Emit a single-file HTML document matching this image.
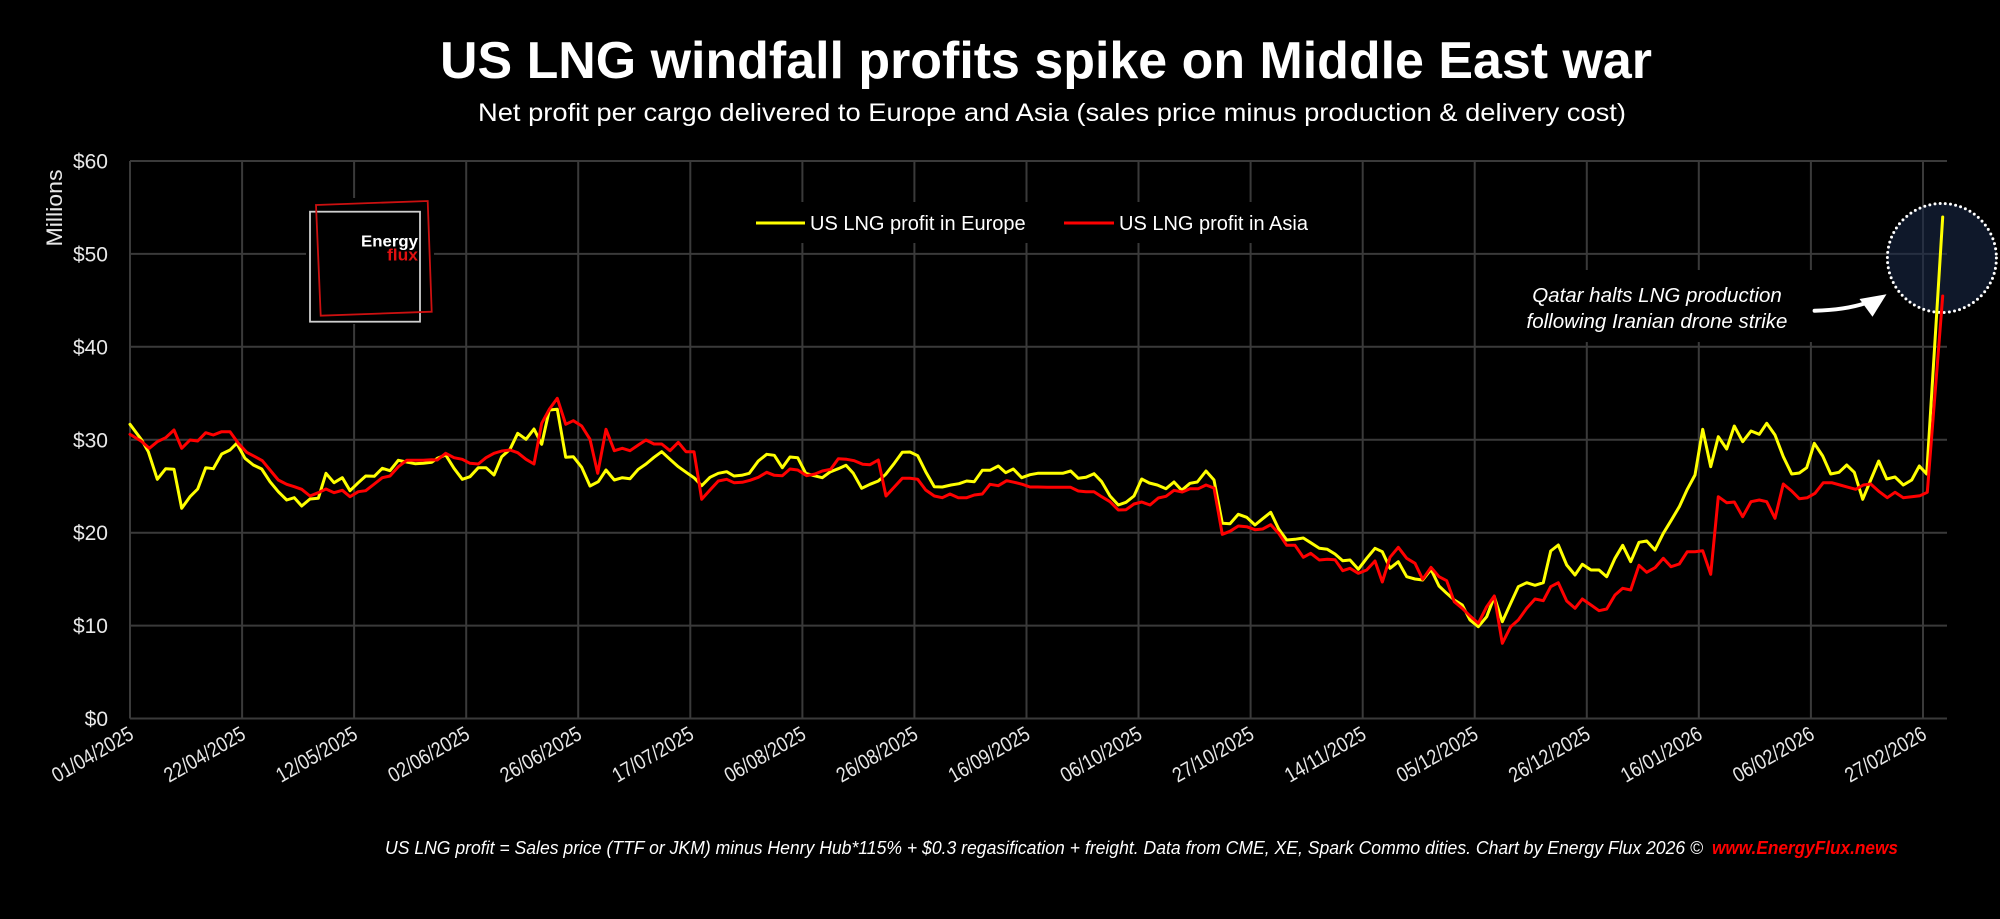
<!DOCTYPE html>
<html>
<head>
<meta charset="utf-8">
<style>
  html, body { margin:0; padding:0; background:#000; }
  body { width:2000px; height:919px; overflow:hidden; }
  svg { display:block; }
  text { font-family: "Liberation Sans", "DejaVu Sans", sans-serif; }
</style>
</head>
<body>
<svg width="2000" height="919" viewBox="0 0 2000 919" xmlns="http://www.w3.org/2000/svg">
  <rect x="0" y="0" width="2000" height="919" fill="#000"/>

  <!-- Title -->
  <text x="440" y="78" font-size="52" font-weight="bold" fill="#fff" textLength="1212" lengthAdjust="spacingAndGlyphs">US LNG windfall profits spike on Middle East war</text>
  <text x="478" y="121" font-size="25" fill="#fff" textLength="1148" lengthAdjust="spacingAndGlyphs">Net profit per cargo delivered to Europe and Asia (sales price minus production &amp; delivery cost)</text>

  <!-- Gridlines -->
  <g stroke="#3a3a3a" stroke-width="2">
    <line x1="130" y1="161" x2="1947" y2="161"/>
    <line x1="130" y1="253.9" x2="1947" y2="253.9"/>
    <line x1="130" y1="346.8" x2="1947" y2="346.8"/>
    <line x1="130" y1="439.8" x2="1947" y2="439.8"/>
    <line x1="130" y1="532.7" x2="1947" y2="532.7"/>
    <line x1="130" y1="625.6" x2="1947" y2="625.6"/>
    <line x1="130" y1="718.5" x2="1947" y2="718.5"/>
    <line x1="130" y1="161" x2="130" y2="718.5"/>
    <line x1="242.1" y1="161" x2="242.1" y2="718.5"/>
    <line x1="354.1" y1="161" x2="354.1" y2="718.5"/>
    <line x1="466.2" y1="161" x2="466.2" y2="718.5"/>
    <line x1="578.2" y1="161" x2="578.2" y2="718.5"/>
    <line x1="690.3" y1="161" x2="690.3" y2="718.5"/>
    <line x1="802.4" y1="161" x2="802.4" y2="718.5"/>
    <line x1="914.4" y1="161" x2="914.4" y2="718.5"/>
    <line x1="1026.5" y1="161" x2="1026.5" y2="718.5"/>
    <line x1="1138.5" y1="161" x2="1138.5" y2="718.5"/>
    <line x1="1250.6" y1="161" x2="1250.6" y2="718.5"/>
    <line x1="1362.7" y1="161" x2="1362.7" y2="718.5"/>
    <line x1="1474.7" y1="161" x2="1474.7" y2="718.5"/>
    <line x1="1586.8" y1="161" x2="1586.8" y2="718.5"/>
    <line x1="1698.8" y1="161" x2="1698.8" y2="718.5"/>
    <line x1="1810.9" y1="161" x2="1810.9" y2="718.5"/>
    <line x1="1923" y1="161" x2="1923" y2="718.5"/>
  </g>

  <!-- Y axis labels -->
  <g font-size="21" fill="#e8e8e8" text-anchor="end">
    <text x="108" y="168.5">$60</text>
    <text x="108" y="261.4">$50</text>
    <text x="108" y="354.3">$40</text>
    <text x="108" y="447.3">$30</text>
    <text x="108" y="540.2">$20</text>
    <text x="108" y="633.1">$10</text>
    <text x="108" y="726">$0</text>
  </g>
  <text transform="translate(62,208) rotate(-90)" font-size="22" fill="#e8e8e8" text-anchor="middle" textLength="77" lengthAdjust="spacingAndGlyphs">Millions</text>

  <!-- X axis labels -->
  <g font-size="21" fill="#e8e8e8" text-anchor="end">
    <text transform="translate(135,738) rotate(-30)" textLength="90" lengthAdjust="spacingAndGlyphs">01/04/2025</text>
    <text transform="translate(247.1,738) rotate(-30)" textLength="90" lengthAdjust="spacingAndGlyphs">22/04/2025</text>
    <text transform="translate(359.1,738) rotate(-30)" textLength="90" lengthAdjust="spacingAndGlyphs">12/05/2025</text>
    <text transform="translate(471.2,738) rotate(-30)" textLength="90" lengthAdjust="spacingAndGlyphs">02/06/2025</text>
    <text transform="translate(583.2,738) rotate(-30)" textLength="90" lengthAdjust="spacingAndGlyphs">26/06/2025</text>
    <text transform="translate(695.3,738) rotate(-30)" textLength="90" lengthAdjust="spacingAndGlyphs">17/07/2025</text>
    <text transform="translate(807.4,738) rotate(-30)" textLength="90" lengthAdjust="spacingAndGlyphs">06/08/2025</text>
    <text transform="translate(919.4,738) rotate(-30)" textLength="90" lengthAdjust="spacingAndGlyphs">26/08/2025</text>
    <text transform="translate(1031.5,738) rotate(-30)" textLength="90" lengthAdjust="spacingAndGlyphs">16/09/2025</text>
    <text transform="translate(1143.5,738) rotate(-30)" textLength="90" lengthAdjust="spacingAndGlyphs">06/10/2025</text>
    <text transform="translate(1255.6,738) rotate(-30)" textLength="90" lengthAdjust="spacingAndGlyphs">27/10/2025</text>
    <text transform="translate(1367.7,738) rotate(-30)" textLength="90" lengthAdjust="spacingAndGlyphs">14/11/2025</text>
    <text transform="translate(1479.7,738) rotate(-30)" textLength="90" lengthAdjust="spacingAndGlyphs">05/12/2025</text>
    <text transform="translate(1591.8,738) rotate(-30)" textLength="90" lengthAdjust="spacingAndGlyphs">26/12/2025</text>
    <text transform="translate(1703.8,738) rotate(-30)" textLength="90" lengthAdjust="spacingAndGlyphs">16/01/2026</text>
    <text transform="translate(1815.9,738) rotate(-30)" textLength="90" lengthAdjust="spacingAndGlyphs">06/02/2026</text>
    <text transform="translate(1928,738) rotate(-30)" textLength="90" lengthAdjust="spacingAndGlyphs">27/02/2026</text>
  </g>

  <!-- Legend -->
  <rect x="735" y="202" width="590" height="41" fill="#000"/>
  <line x1="756" y1="223" x2="805" y2="223" stroke="#ffff00" stroke-width="3"/>
  <text x="810" y="230" font-size="20" fill="#fff">US LNG profit in Europe</text>
  <line x1="1064" y1="223" x2="1114" y2="223" stroke="#ff0000" stroke-width="3"/>
  <text x="1119" y="230" font-size="20" fill="#fff">US LNG profit in Asia</text>

  <!-- Logo -->
  <rect x="306" y="198" width="128" height="126" fill="#000"/>
  <rect x="310" y="211.7" width="110" height="110" fill="none" stroke="#cfcfcf" stroke-width="1.8"/>
  <polygon points="316,205 427.7,201 431.7,311.7 320.7,315.7" fill="none" stroke="#cc1010" stroke-width="1.8"/>
  <text x="418" y="246.5" font-size="16" font-weight="bold" fill="#fff" text-anchor="end" textLength="57" lengthAdjust="spacingAndGlyphs">Energy</text>
  <text x="418" y="260.5" font-size="16.5" font-weight="bold" fill="#e01010" text-anchor="end" textLength="31" lengthAdjust="spacingAndGlyphs">flux</text>

  <!-- Annotation -->
  <rect x="1495" y="270" width="322" height="72" fill="#000"/>
  <text x="1657" y="302" font-size="20.5" font-style="italic" fill="#fff" text-anchor="middle">Qatar halts LNG production</text>
  <text x="1657" y="328" font-size="20.5" font-style="italic" fill="#fff" text-anchor="middle">following Iranian drone strike</text>
  <path d="M1814.6,310.7 Q1845,310 1866,303" fill="none" stroke="#fff" stroke-width="4" stroke-linecap="round"/>
  <polygon points="1886.5,294.3 1859.5,299 1872.5,316.7" fill="#fff"/>

  <!-- Circle highlight -->
  <circle cx="1941.9" cy="258" r="54.5" fill="rgb(25,40,70)" fill-opacity="0.6" stroke="#fff" stroke-width="3" stroke-dasharray="0 5.2" stroke-linecap="round"/>

  <!-- Series -->
  <polyline fill="none" stroke="#ffff00" stroke-width="3" stroke-linejoin="round" stroke-linecap="round" points="130,424.3 141.7,440 148.3,451.7 157.3,479.3 165.7,468.7 174,469.3 181.7,508.3 190,496.7 197.7,489 205.7,467.7 213.3,468.7 221.7,454 230,450 236.7,443.3 245,458.3 253.3,465 261.7,469 270,481.7 278.3,491.7 286.7,500 294.3,497.7 301.7,506 310,499 318.3,498.3 326,473.3 334,482.7 342.3,477.7 350,490.7 358.3,482.7 365.7,476 374.3,476.3 382.3,468.3 390,470.7 398.3,460.3 406.7,462 415,463.7 423.3,463.3 431.7,462.3 437.3,458.3 445.7,455 454,468.3 462.3,479.3 470,476.7 478.3,467.7 486,467.7 494,475 501.7,456.7 510,449.3 517.7,433.3 526,439.3 534,429 541.7,444.3 549.3,410 557.3,409.3 565.7,457.3 573.3,456.7 581.7,467.3 590,486 598.3,481.7 606,470 614.3,480 622.3,477.7 630,478.7 638.3,469.3 646,464 654,457.3 661.7,451.7 670,459.3 678.3,466.7 686.7,472.7 694,477.7 701.7,485.7 710,477.3 718.3,473.3 726.7,471.7 734,476 741.7,475.3 749.3,473.3 758.3,461 766.7,454.3 774.3,455.3 782.3,467.7 790,457 797.7,457.7 805.7,473.3 814,475.7 822.3,477.7 830,472 838.3,468.7 846,465.3 853.3,473.3 861.7,488.3 870,484.3 878.3,481 885.7,474.3 894.3,463.3 902.3,452.3 910,452 917.7,455.7 925.7,471.7 934.3,486.7 942.3,487 951,485 959,483.7 966.7,481 974.3,481.7 982.3,470.3 990,470.3 998.3,466 1005.7,472.7 1013.3,469 1021.7,477.7 1030,474.7 1037.7,473.3 1047.3,473.3 1055,473.3 1062.7,473.3 1070.7,471 1078.3,478.3 1086,477.3 1094,473.7 1101.7,481.7 1110,496 1118.3,505 1126,502.3 1134,496 1141.7,479 1149.3,483 1157.3,485 1166,488.7 1174,482 1181.7,490.3 1190,483.3 1197.3,482 1206,471 1214,480 1222.3,523.3 1230,523.7 1238.3,514.3 1246.7,517.3 1255,525 1262.7,518.7 1270.7,512.3 1278.7,529 1286.7,540 1295,539.3 1303.3,538 1310.7,542.7 1319.3,548.3 1327.3,549.3 1335,554 1342.7,560.7 1350,560 1358.3,569.3 1366.7,558.3 1375,548.3 1382.3,551.7 1390,568.3 1398.3,561.7 1406.7,576.7 1415,579 1422.7,580 1431,569.3 1439,586 1446.7,593.3 1454.3,600 1462.3,605 1470,620 1478.3,626.7 1486.7,616.7 1494.3,596.7 1502.3,621.7 1510.7,603.3 1518.3,586.7 1526.7,582.7 1535,585.3 1543.3,582.7 1550.7,551 1558.3,545 1566.7,565 1575,575 1582.3,564.3 1591,570 1599,570 1606.7,576.7 1615,558.3 1622.7,545.3 1630.7,561.7 1639,542.3 1646.7,541 1655,550 1663.3,533.3 1671,520.7 1679.3,506.7 1687.3,489.3 1695,475 1702.7,429.3 1710.7,466.7 1718.3,436.7 1726.7,449 1734.3,426 1742.7,441.7 1751,431 1759.3,434.3 1766.7,423.3 1775,435 1783.3,456.7 1791.7,474 1799.3,473 1806.7,467.7 1814.3,443.3 1822.7,456 1830.7,474 1839,472.3 1846.7,465 1854.3,472.3 1862.7,499.3 1870.7,480 1878.7,461 1886.7,479 1895,477 1903.3,485 1911.7,480 1919.3,466 1926.7,474 1942.7,217"/>
  <polyline fill="none" stroke="#ff0000" stroke-width="3" stroke-linejoin="round" stroke-linecap="round" points="130,434.3 141,441 149.3,448.3 157.3,441.7 165.7,437.7 174,430 181.7,448.3 190,440 197.7,441 205.7,432.7 213.3,435 221.7,431.7 230,431.7 238.3,443.3 246.7,452.3 255,456.7 262.3,460.7 270,470 278.3,480 286.7,484.3 294.3,486.7 301.7,489.3 310,496 318.3,492.7 326,489 334,492.7 342.3,490.3 350,496.7 358.3,491.7 365.7,490.7 374.3,484 382.3,477.7 390,476 398.3,466.7 406.7,460.3 415,460.3 423.3,460.3 431.7,459.7 437.3,460 445.7,453.3 454,457.7 462.3,459.3 470,463.3 478.3,464 486,457.7 494,453.3 501.7,451 510,450 517.7,452.7 526,459.3 534,464 541.7,423.3 549.3,409.3 557.3,398.3 565.7,424.3 573.3,420.7 581.7,426 590,439.3 597.7,473.3 606,429.3 614.3,450.7 622.3,448.3 630,450.7 638.3,445 646,440 654,444 661.7,444 670,450.7 678.3,442.3 686,451.7 694,451.7 701.7,499.3 710,490 718.3,481 726.7,479.3 734,482.7 742.3,482.3 750,480.3 758.3,477.3 766.7,472.3 774.3,475.3 782.3,475.7 790,469 797.7,470 806.7,475.7 815,474 822.3,471 830.7,469.3 838.3,458.7 846.7,459.3 854.3,460.7 862.7,464.3 870,464.7 878.3,460 886,496 894.3,487 902.3,478.3 910,478.3 917.7,479.3 925.7,490 934.3,496 942.3,497.7 950,494 958.3,497.7 966.7,497.7 974.3,495 982.3,494 990,484.3 998.3,485.7 1006.7,480.7 1014.3,482.3 1022.3,484.3 1030,487 1037.7,487 1047.3,487.3 1055,487.3 1062.7,487.3 1070.7,487.3 1078.3,491 1086,491.7 1094,491.7 1101.7,496.7 1110,501.7 1118.3,510 1126,509.7 1134,504 1141.7,502 1150,505 1158.3,498 1166,496.3 1174,490.3 1182.3,492 1190,488.7 1198.3,488.7 1206,485 1214,488 1222.3,534.3 1230,531.3 1238.3,526 1246.7,526.7 1255,529.7 1262.7,529 1270.7,524.7 1278.7,533.3 1286.7,545.3 1295,545.3 1303.3,557.3 1310.7,553.3 1319.3,560 1327.3,559.3 1335,559.7 1342.7,570.7 1350,568.3 1358.3,573.3 1366.7,570 1375,561 1382.3,582 1390,557.3 1398.3,547.3 1406.7,558.3 1415,563.3 1422.7,579.3 1431,567.3 1439,576.7 1446.7,580.7 1454.3,601.7 1462.3,608.3 1470,616 1478.3,623.3 1486.7,606.7 1494.3,596 1502.3,643.3 1510.7,626.7 1518.3,620 1526.7,608.3 1535,599 1543.3,600.7 1550.7,586.7 1558.3,582.7 1566.7,601 1575,608.3 1582.3,599 1591,605 1599,610.7 1606.7,609 1615,595 1622.7,588.3 1630.7,590 1639,565.3 1646.7,572.3 1655,567.7 1663.3,558.3 1671,566.7 1679.3,564 1687.3,551.7 1695,551.7 1702.7,550.7 1710.7,574.3 1718.3,496.7 1726.7,502.7 1734.3,502 1742.7,516.7 1751,501.7 1759.3,500 1766.7,501.7 1775,518.3 1783.3,484 1791.7,491 1799.3,498.7 1807.3,497.7 1815,493.3 1823.3,482.7 1831.7,482.7 1840,485 1848.3,487.3 1855.7,489.3 1863.3,485 1870.7,484 1879.3,491.7 1887.3,497.7 1895,492.3 1903.3,497.7 1911.7,496.7 1920,495.7 1927.3,492.3 1942.7,296"/>

  <!-- Footer -->
  <text x="385" y="854" font-size="18" font-style="italic" fill="#fff" textLength="1318" lengthAdjust="spacingAndGlyphs">US LNG profit = Sales price (TTF or JKM) minus Henry Hub*115% + $0.3 regasification + freight. Data from CME, XE, Spark Commo dities. Chart by Energy Flux 2026 ©</text>
  <text x="1712" y="854" font-size="18" font-style="italic" font-weight="bold" fill="#ff0000" textLength="186" lengthAdjust="spacingAndGlyphs">www.EnergyFlux.news</text>
</svg>
</body>
</html>
